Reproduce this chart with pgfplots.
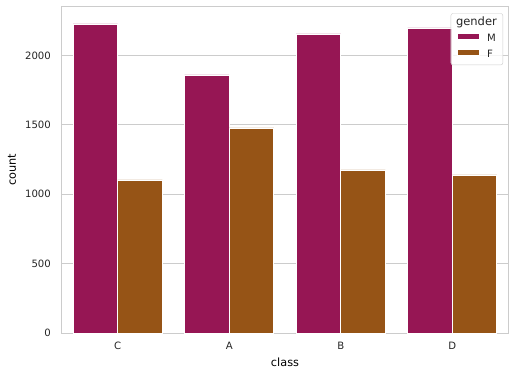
\documentclass[border=0pt]{standalone}
\usepackage{pgfplots}
\pgfplotsset{compat=1.18}
\usepackage{fontspec}
\setmainfont{DejaVu Sans}
\definecolor{cM}{RGB}{150,22,84}
\definecolor{cF}{RGB}{150,84,22}
\definecolor{gridc}{HTML}{CCCCCC}
\definecolor{txt}{HTML}{262626}
\newcommand\tk{\fontsize{10.1bp}{12bp}\selectfont}
\newcommand\lb{\fontsize{11.3bp}{13bp}\selectfont}
\begin{document}
\begin{tikzpicture}
\path[use as bounding box] (-62bp,-44bp) rectangle (453bp,333bp);
\begin{axis}[
  at={(0,0)}, anchor=south west,
  scale only axis, width=446bp, height=326bp,
  xmin=-0.5, xmax=3.5, ymin=0, ymax=2350,
  xtick={0,1,2,3}, xticklabels={\tk C,\tk A,\tk B,\tk D},
  ytick={0,500,1000,1500,2000},
  yticklabel={\tk\pgfmathprintnumber{\tick}},
  /pgf/number format/assume math mode=true,
  /pgf/number format/1000 sep={},
  scaled y ticks=false,
  major tick length=0pt,
  ymajorgrids, grid style={gridc, line width=1bp},
  axis line style={gridc, line width=1bp},
  tick label style={text=txt},
  yticklabel style={inner sep=0pt, anchor=east, xshift=-11bp},
  xticklabel style={inner sep=0pt, anchor=north, yshift=-9bp},
  label style={text=txt},
  every axis y label/.style={at={(axis description cs:-0.112,0.5)}, rotate=90, anchor=center},
  every axis x label/.style={at={(axis description cs:0.5,-0.091)}, anchor=center},
  xlabel={\lb class}, ylabel={\lb count},
  ybar, bar width=0.4,
  legend cell align=left,
  legend image code/.code={\fill[#1, sharp corners, fill opacity=1] (0bp,-0.5bp) rectangle (22bp,5.5bp);},
  legend style={at={(1,1)}, anchor=north east, xshift=-5bp, yshift=-6.3bp,
    draw=gridc, fill=white, fill opacity=0.8, text opacity=1, rounded corners=2bp,
    text=txt, inner xsep=6bp, inner ysep=4.5bp,
    nodes={inner sep=0pt, text height=8bp, text depth=2.5bp},
    row sep=4.8bp, column sep=7.5bp},
]
\addlegendimage{empty legend}
\addlegendentry{\hspace*{-31.2bp}\fontsize{11.5bp}{13bp}\selectfont gender}
\addplot[fill=cM, draw=white, line width=0.8bp, bar shift=-0.2] coordinates {(0,2228) (1,1860) (2,2156) (3,2199)};
\addlegendentry{\tk M}
\addplot[fill=cF, draw=white, line width=0.8bp, bar shift=0.2] coordinates {(0,1103) (1,1478) (2,1175) (3,1139)};
\addlegendentry{\tk F}
\end{axis}
\end{tikzpicture}
\end{document}
